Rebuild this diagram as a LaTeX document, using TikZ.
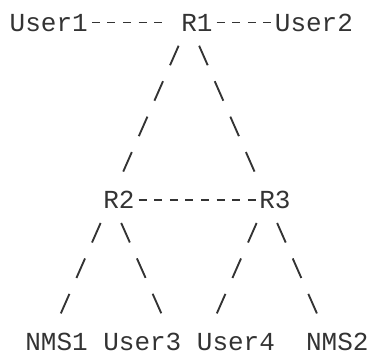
\documentclass[tikz,border=0pt]{standalone}
\usepackage{fontspec}
\setmonofont{Liberation Mono}
\definecolor{ink}{HTML}{333333}
\usetikzlibrary{positioning}

\begin{document}
\begin{tikzpicture}[
      x=11.7pt, y=-26.59pt,
      dev/.style={inner sep=0pt, anchor=base west, text=ink, text height=12.85pt, text depth=0pt,
                  font=\ttfamily\fontsize{19.5pt}{19.5pt}\selectfont},
      hlink/.style={ink, line width=1.4pt, dash pattern=on 6pt off 5.7pt, dash phase=8.85pt},
      slink/.style={ink, line width=1.4pt, dash pattern=on 15.98pt off 13.07pt,
                    shorten <=19.1pt, shorten >=23.03pt}]
    \useasboundingbox (-7.1pt,23.25pt) rectangle (270.4pt,-242.25pt);
    \node[dev] (user1) at (0,0) {User1};
    \node[dev] (r1) at (11,0) {R1};
    \node[dev] (user2) at (17,0) {User2};
    \node[dev] (r2) at (6,5) {R2};
    \node[dev] (r3) at (16,5) {R3};
    \node[dev] (nms1) at (1,9) {NMS1};
    \node[dev] (user3) at (6,9) {User3};
    \node[dev] (user4) at (12,9) {User4};
    \node[dev] (nms2) at (19,9) {NMS2};
    \draw[hlink, shorten >=11.7pt] (user1.east) -- (r1.west);
    \draw[hlink] (r1.east) -- (user2.west);
    \draw[hlink] (r2.east) -- (r3.west);
    \draw[slink] ([xshift=5.85pt]r1.west) -- ([xshift=5.85pt]r2.west);
    \draw[slink] ([xshift=5.85pt]r1.west) -- ([xshift=5.85pt]r3.west);
    \draw[slink] ([xshift=5.85pt]r2.west) -- ([xshift=17.55pt]nms1.west);
    \draw[slink] ([xshift=5.85pt]r2.west) -- ([xshift=-5.85pt]user3.east);
    \draw[slink] ([xshift=5.85pt]r3.west) -- ([xshift=5.85pt]user4.west);
    \draw[slink] ([xshift=5.85pt]r3.west) -- ([xshift=17.55pt]nms2.west);
  \end{tikzpicture}
\end{document}
